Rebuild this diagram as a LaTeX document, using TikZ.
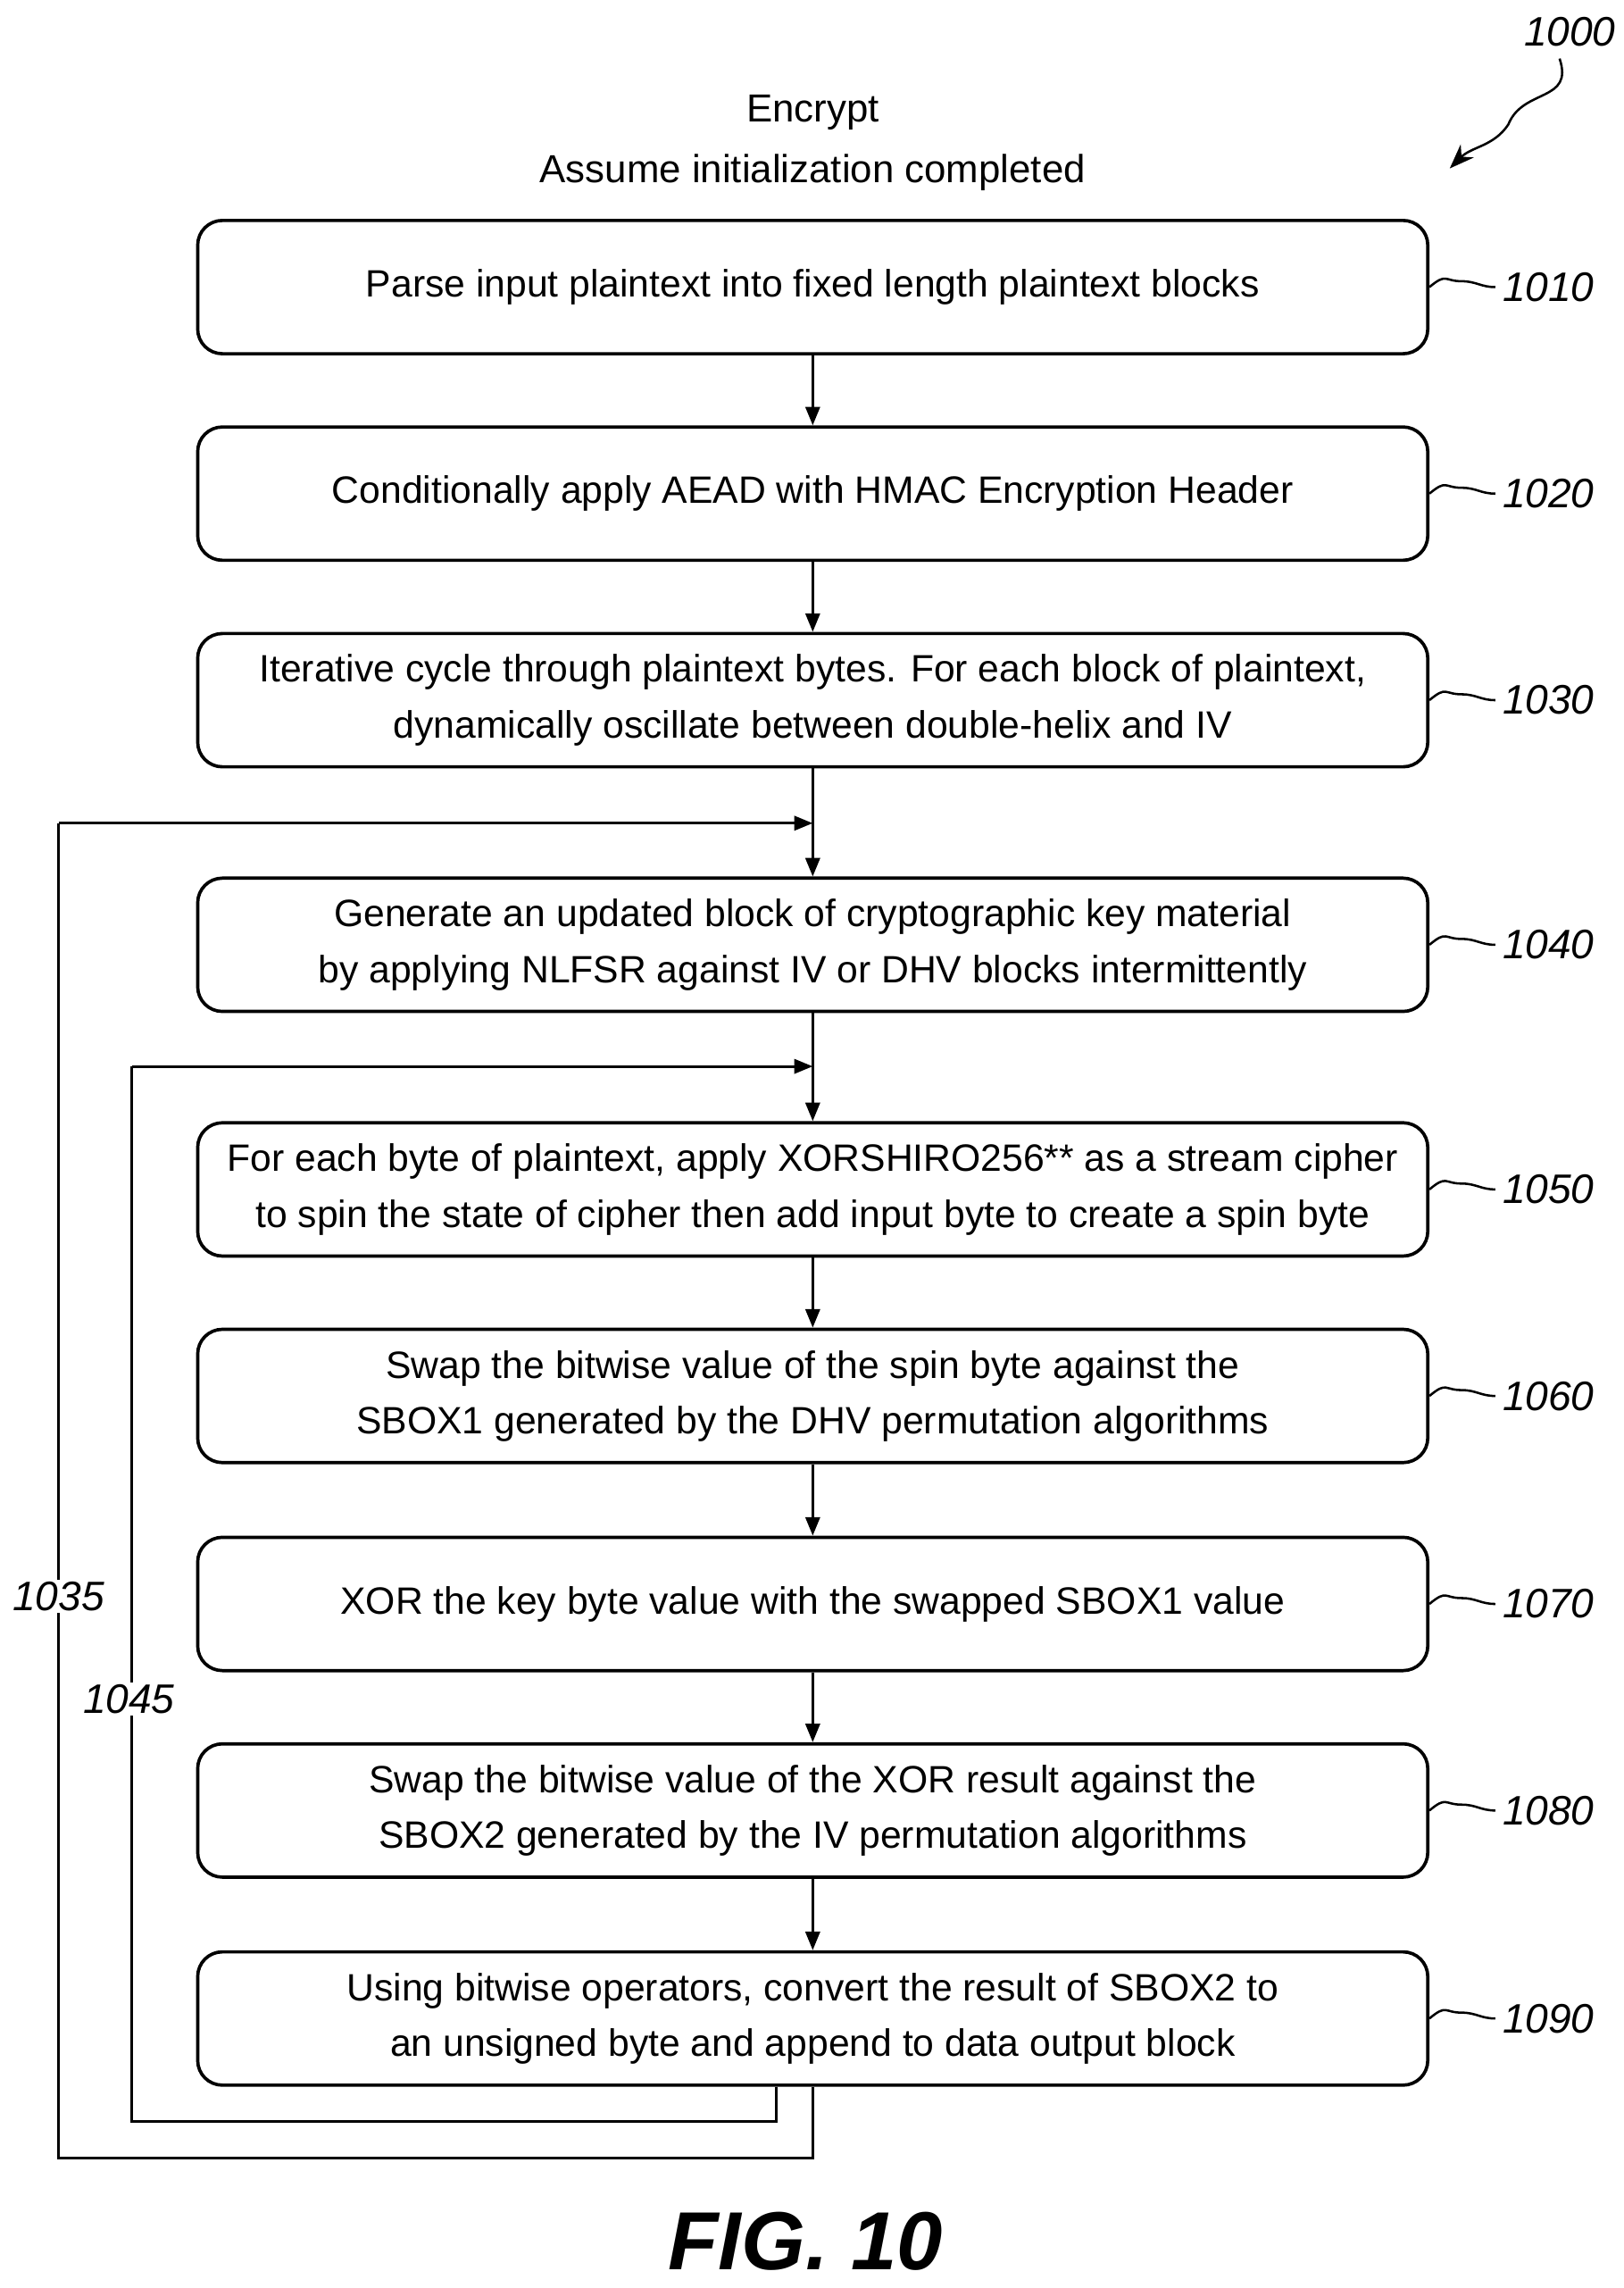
\documentclass[tikz,border=0pt]{standalone}
\usepackage{fontspec}
\setmainfont{Liberation Sans}
\usetikzlibrary{arrows.meta,decorations.pathmorphing}
\begin{document}
\begin{tikzpicture}[x=0.025cm,y=-0.025cm,
  box/.style={draw,line width=1.6pt,rounded corners=12pt,minimum width=840*0.025cm,minimum height=91*0.025cm,align=center,font=\fontsize{18.5}{27}\selectfont},
  ln/.style={line width=1.3pt},
  arr/.style={ln,-{Triangle[length=9pt,width=7pt]}},
  ref/.style={font=\fontsize{20}{24}\selectfont\itshape},
  lead/.style={line width=1.1pt}]
\useasboundingbox (0,0) rectangle (1109,1562);
\node at (555,77) [font=\fontsize{19}{24}\selectfont] (t1) {Encrypt};
\node at (555,118) [font=\fontsize{19}{24}\selectfont] (t2) {Assume initialization completed};
\node[ref] (r1000) at (1072,22) {1000};
\draw[lead,-{Stealth[length=12pt]}] (1065,40) .. controls (1075,70) and (1040,60) .. (1030,85) .. controls (1020,100) and (1005,100) .. (990,115);
\node[box] (b1) at (555,196) {Parse input plaintext into fixed length plaintext blocks};
\node[box] (b2) at (555,337) {Conditionally apply AEAD with HMAC Encryption Header};
\node[box] (b3) at (555,478) {Iterative cycle through plaintext bytes. For each block of plaintext,\\dynamically oscillate between double-helix and IV};
\node[box] (b4) at (555,645) {Generate an updated block of cryptographic key material\\by applying NLFSR against IV or DHV blocks intermittently};
\node[box] (b5) at (555,812) {For each byte of plaintext, apply XORSHIRO256** as a stream cipher\\to spin the state of cipher then add input byte to create a spin byte};
\node[box] (b6) at (555,953) {Swap the bitwise value of the spin byte against the\\SBOX1 generated by the DHV permutation algorithms};
\node[box] (b7) at (555,1095) {XOR the key byte value with the swapped SBOX1 value};
\node[box] (b8) at (555,1236) {Swap the bitwise value of the XOR result against the\\SBOX2 generated by the IV permutation algorithms};
\node[box] (b9) at (555,1378) {Using bitwise operators, convert the result of SBOX2 to\\an unsigned byte and append to data output block};
\foreach \a/\b in {b1/b2,b2/b3,b3/b4,b4/b5,b5/b6,b6/b7,b7/b8,b8/b9}
  \draw[arr] (\a.south) -- (\b.north);
\foreach \n/\l in {b1/1010,b2/1020,b3/1030,b4/1040,b5/1050,b6/1060,b7/1070,b8/1080,b9/1090}{
  \node[ref,anchor=west] (r\l) at ([xshift=1020*0.025cm-975*0.025cm]\n.east) {\l};
  \draw[lead] (\n.east) .. controls +(12,-10) and +(-12,0) .. ++(22,-4) .. controls +(10,0) and +(-10,0) .. (r\l.west);
}
\coordinate (j1) at (555,562);
\coordinate (j2) at (555,728);
\draw[ln] (b9.south) -- (555,1473) -- (40,1473) -- (40,562);
\draw[arr] (40,562) -- (j1);
\draw[ln] ([xshift=-25*0.025cm]b9.south) -- (530,1448) -- (90,1448) -- (90,728);
\draw[arr] (90,728) -- (j2);
\node[ref,fill=white,inner sep=1pt] (l1035) at (40,1090) {1035};
\node[ref,fill=white,inner sep=1pt] (l1045) at (88,1160) {1045};
\node (fig) at (550,1530) [font=\fontsize{40}{44}\selectfont\bfseries\itshape] {FIG. 10};
\end{tikzpicture}
\end{document}
